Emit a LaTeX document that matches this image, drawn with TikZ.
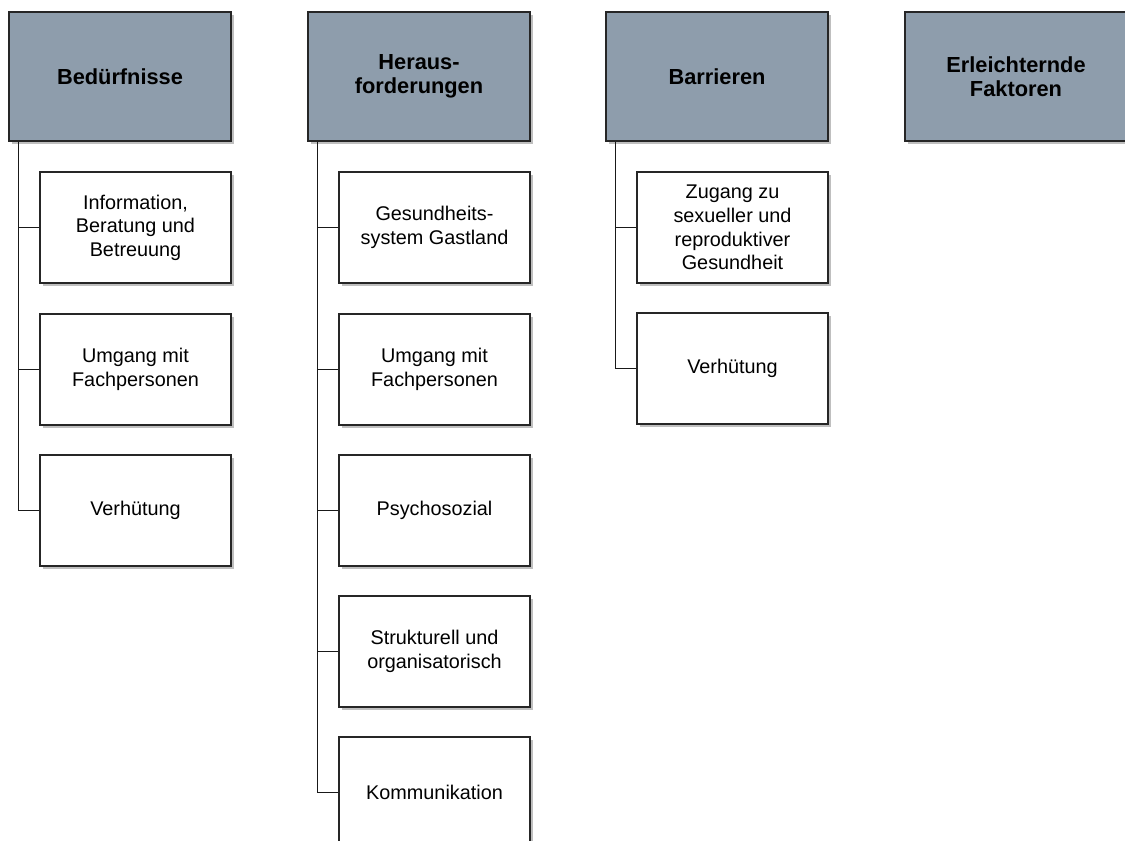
\documentclass[tikz,border=0pt]{standalone}
\usepackage{fontspec}
\setmainfont{Liberation Sans}
\usetikzlibrary{shadows}
\definecolor{headgray}{RGB}{142,157,172}

\tikzset{
  headbox/.style={draw=black!85, line width=1pt, fill=headgray,
    minimum width=5.55cm, minimum height=3.225cm, inner sep=0pt,
    align=center, font=\fontsize{15.5}{17}\selectfont\bfseries,
    drop shadow={shadow xshift=0.07cm, shadow yshift=-0.07cm, opacity=0.5}},
  itembox/.style={draw=black!85, line width=1pt, fill=white,
    minimum width=4.775cm, minimum height=2.775cm, inner sep=0pt,
    align=center, font=\fontsize{14.1}{16.8}\selectfont,
    drop shadow={shadow xshift=0.07cm, shadow yshift=-0.07cm, opacity=0.5}},
  branch/.style={draw=black!90, line width=1pt}
}

\begin{document}
\begin{tikzpicture}[x=0.025cm, y=-0.025cm]
  \useasboundingbox (0,0) rectangle (1125,841);
  % headers
  \node[headbox] (needs) at (120,76.5) {Bedürfnisse};
  \node[headbox] (chall) at (419,76.5) {Heraus-\\forderungen};
  \node[headbox] (barr) at (717,76.5) {Barrieren};
  \node[headbox] (facil) at (1016,76.5) {Erleichternde\\Faktoren};
  % Bedürfnisse
  \node[itembox] (needs1) at (135.5,227.5) {Information,\\Beratung und\\Betreuung};
  \node[itembox] (needs2) at (135.5,369.5) {Umgang mit\\Fachpersonen};
  \node[itembox] (needs3) at (135.5,510.5) {Verhütung};
  % Herausforderungen
  \node[itembox] (chall1) at (434.5,227.5) {Gesundheits-\\system Gastland};
  \node[itembox] (chall2) at (434.5,369.5) {Umgang mit\\Fachpersonen};
  \node[itembox] (chall3) at (434.5,510.5) {Psychosozial};
  \node[itembox] (chall4) at (434.5,651.5) {Strukturell und\\organisatorisch};
  \node[itembox] (chall5) at (434.5,792.5) {Kommunikation};
  % Barrieren
  \node[itembox] (barr1) at (732.5,227.5) {Zugang zu\\sexueller und\\reproduktiver\\Gesundheit};
  \node[itembox] (barr2) at (732.5,368.5) {Verhütung};
  % connectors
  \foreach \c in {needs1,needs2,needs3}
    \draw[branch] ([xshift=0.25cm]needs.south west) |- (\c.west);
  \foreach \c in {chall1,chall2,chall3,chall4,chall5}
    \draw[branch] ([xshift=0.25cm]chall.south west) |- (\c.west);
  \foreach \c in {barr1,barr2}
    \draw[branch] ([xshift=0.25cm]barr.south west) |- (\c.west);
\end{tikzpicture}
\end{document}
